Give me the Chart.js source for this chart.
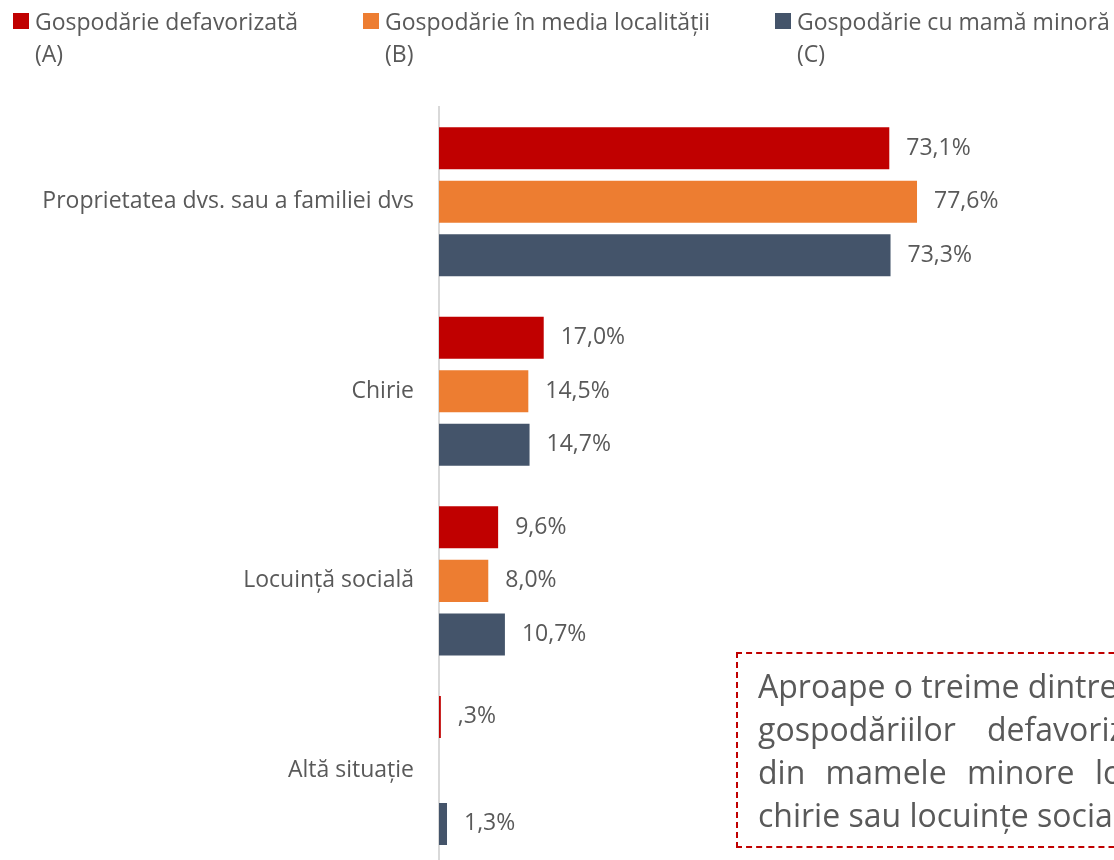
<!DOCTYPE html>
<html>
<head>
<meta charset="utf-8">
<script src="https://cdn.jsdelivr.net/npm/chart.js@4.4.1/dist/chart.umd.min.js"></script>
<style>
  html, body { margin: 0; padding: 0; background: #fff; overflow: hidden; width: 1114px; height: 860px; }
  #wrap { position: absolute; left: 0; top: 0; width: 1114px; height: 904px; }
  .leg { position: absolute; top: 5px; font-family: "Open Sans", sans-serif; font-size: 23px; line-height: 32px; color: #595959; white-space: nowrap; }
  .leg .sw { position: absolute; left: -22px; top: 8px; width: 16px; height: 16px; }
  #note { position: absolute; left: 736px; top: 652px; width: 600px; height: 196px; border: 2px dashed #c00000;
          font-family: "Open Sans", sans-serif; font-size: 32px; line-height: 43px; color: #595959; padding: 10px 20px; box-sizing: border-box; white-space: nowrap; }
</style>
</head>
<body>
<div id="wrap"><canvas id="chart"></canvas></div>
<div id="legend"></div>
<div id="note">
  <div>Aproape o treime dintre membrii</div>
  <div style="word-spacing: 23px">gospodăriilor defavorizate și</div>
  <div style="word-spacing: 12px">din mamele minore locuiesc cu</div>
  <div>chirie sau locuințe sociale.</div>
</div>
<script>
// --- data ---
const categories = ['Proprietatea dvs. sau a familiei dvs', 'Chirie', 'Locuință socială', 'Altă situație'];
const seriesNames = [['Gospodărie defavorizată', '(A)'], ['Gospodărie în media localității', '(B)'], ['Gospodărie cu mamă minoră', '(C)']];
const defavorizata = [73.1, 17.0, 9.6, 0.3];
const mediaLocalitatii = [77.6, 14.5, 8.0, null];
const mamaMinora = [73.3, 14.7, 10.7, 1.3];
const colors = ['#c00000', '#ed7d31', '#44546a'];
const legendX = [35, 385, 797];

const textColor = '#595959';
const fontFamily = '"Open Sans", sans-serif';

// html legend (two-line labels)
const legendEl = document.getElementById('legend');
seriesNames.forEach((name, i) => {
    const d = document.createElement('div');
    d.className = 'leg';
    d.style.left = legendX[i] + 'px';
    d.innerHTML = '<span class="sw" style="background:' + colors[i] + '"></span>' + name.join('<br>');
    legendEl.appendChild(d);
});

// format like "73,1%" and ",3%"
function fmt(v) {
    let s = v.toFixed(1).replace('.', ',');
    if (s.startsWith('0,')) s = s.slice(1);
    return s + '%';
}

// draws the value next to each bar
const valueLabels = {
    id: 'valueLabels',
    afterDatasetsDraw(chart) {
        const ctx = chart.ctx;
        ctx.save();
        ctx.font = '23px ' + fontFamily;
        ctx.fillStyle = textColor;
        ctx.textBaseline = 'middle';
        ctx.textAlign = 'left';
        chart.data.datasets.forEach((ds, i) => {
            chart.getDatasetMeta(i).data.forEach((bar, j) => {
                const v = ds.data[j];
                if (v === null) return;
                ctx.fillText(fmt(v), bar.x + 17, bar.y);
            });
        });
        ctx.restore();
    }
};

new Chart(document.getElementById('chart'), {
    type: 'bar',
    data: {
        labels: categories,
        datasets: [
            { label: seriesNames[0].join(' '), data: defavorizata, backgroundColor: colors[0] },
            { label: seriesNames[1].join(' '), data: mediaLocalitatii, backgroundColor: colors[1] },
            { label: seriesNames[2].join(' '), data: mamaMinora, backgroundColor: colors[2] }
        ]
    },
    options: {
        indexAxis: 'y',
        responsive: true,
        maintainAspectRatio: false,
        animation: false,
        datasets: { bar: { categoryPercentage: 0.847, barPercentage: 0.785 } },
        layout: { padding: { top: 107, right: 59, bottom: 1, left: 0 } },
        plugins: { legend: { display: false }, tooltip: { enabled: false } },
        scales: {
            x: { display: false, min: 0, max: 100 },
            y: {
                afterFit(scale) { scale.width = 439; },
                grid: { display: false, drawTicks: false },
                border: { display: true, color: '#d9d9d9', width: 2 },
                ticks: { color: textColor, padding: 25, font: { family: fontFamily, size: 23 } }
            }
        }
    },
    plugins: [valueLabels]
});
</script>
</body>
</html>
